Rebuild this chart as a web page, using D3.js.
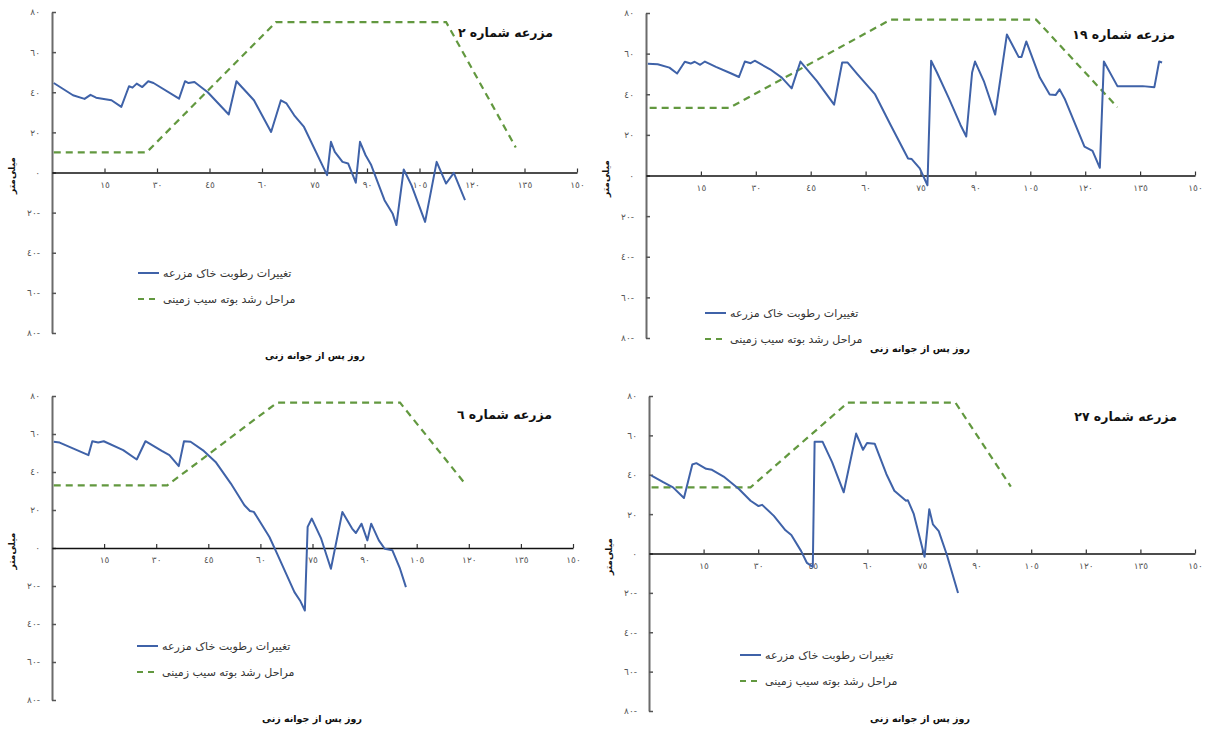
<!DOCTYPE html>
<html>
<head>
<meta charset="utf-8">
<script src="https://cdnjs.cloudflare.com/ajax/libs/d3/7.8.5/d3.min.js"></script>
<style>
  body { margin: 0; background: #fff; }
  text { font-family: "DejaVu Sans", sans-serif; }
</style>
</head>
<body>
<div id="chart-area"></div>
<script>

// ---- data ----
// farm 2
var farm2Days     = [0.5, 6, 9.3, 11, 12.6, 17, 19.8, 22, 23, 24.2, 25.8, 27.5, 29, 36.3, 38, 39, 40.7, 44.5, 50.5, 52.7, 57.7, 62.6, 65.4, 67, 69.2, 72, 78.6, 79.7, 80.8, 83, 84.6, 86.8, 88, 89.6, 91.2, 95, 97.3, 98.4, 100.5, 102.7, 106.6, 109.9, 112.6, 114.8, 118];
var farm2Moisture = [44.6, 38.5, 36.7, 38.7, 37.3, 36, 32.7, 43, 42.3, 44.3, 42.6, 45.5, 44.6, 36.8, 45.5, 44.6, 45.1, 40, 28.9, 45.5, 36, 20.2, 36, 34.4, 28.5, 22.7, -1.3, 15.3, 10.3, 5.3, 4.5, -5.1, 15.3, 8.6, 3.7, -13.8, -20.4, -26.2, 1.5, -6.3, -24.6, 5.3, -5.5, -0.2, -13.8];
var farm2StageDays = [0.5, 27, 64, 112.6, 132.5];
var farm2Stage     = [10, 10, 75, 75, 12.5];

// farm 19
var farm19Days     = [0.5, 3.2, 6.4, 8.5, 10.6, 12.2, 13.3, 14.8, 16.1, 19.1, 23.3, 25.4, 27, 28.6, 29.7, 33.9, 37.1, 39.8, 42.2, 46.7, 51.4, 53.6, 55.1, 57.8, 62.6, 66.8, 71.6, 72.6, 74.8, 76.9, 77.9, 79.5, 82.7, 85.9, 87.5, 89.1, 89.9, 92.3, 95.4, 98.6, 101.8, 102.6, 103.9, 107.6, 110.3, 111.9, 113, 114.5, 119.8, 122, 124, 125.1, 128.8, 135.7, 138.9, 140.2, 141];
var farm19Moisture = [55, 54.8, 53.1, 50.2, 56, 55.1, 56, 54.5, 56.1, 53.5, 50.2, 48.5, 56.1, 55.3, 56.5, 52.3, 48.2, 42.9, 56.1, 46.5, 34.9, 55.6, 55.6, 49.8, 39.9, 25, 8.4, 8.1, 3.5, -4.8, 56.5, 50.7, 38.2, 25, 19.2, 50.7, 56.1, 46.5, 30, 69.4, 58.4, 58.4, 66, 48.2, 39.9, 39.6, 42.4, 37.4, 14.2, 12.1, 3.8, 56.1, 44, 44, 43.5, 56.1, 55.6];
var farm19StageDays = [1, 22.8, 66.8, 106.6, 128.8];
var farm19Stage     = [33.3, 33.3, 76.7, 76.7, 33.6];

// farm 6
var farm6Days     = [0.5, 2.2, 10.5, 11.6, 13.3, 14.9, 20.5, 24.4, 26.9, 31.6, 33.8, 36.5, 38, 39.9, 43.7, 47.1, 51.5, 55.4, 57, 58.1, 62.6, 64.8, 69.8, 71.4, 72.8, 73.6, 74.8, 77.5, 80.3, 83.6, 86.4, 87.5, 89.1, 90.8, 91.9, 94.1, 95.8, 98, 100.2, 101.9];
var farm6Moisture = [55.9, 55.5, 48.9, 56.2, 55.5, 56.2, 51.5, 46.6, 56.2, 51.1, 48.9, 43.1, 56.2, 55.9, 51.1, 45.3, 33.9, 22.5, 19.5, 19, 5.8, -3, -23.2, -27.6, -32.9, 11.1, 15.5, 4.9, -10.9, 19, 10.2, 7.9, 12.8, 4, 12.8, 4, -0.4, -1.2, -10.9, -20.6];
var farm6StageDays = [0.5, 33.2, 64.8, 100.2, 118.5];
var farm6Stage     = [33, 33, 76.5, 76.5, 34.8];

// farm 27
var farm27Days     = [0.7, 3.9, 6.6, 9.6, 11.9, 13, 15.7, 17.3, 20.5, 24.7, 27.9, 30.1, 31.1, 34.3, 37.5, 39.1, 41.8, 43.4, 45, 45.5, 47.7, 50.3, 53.5, 56.9, 58.8, 59.9, 62, 65.2, 67.4, 70.6, 71.1, 72.7, 75.7, 77, 78, 79.6, 81.8, 84.9];
var farm27Moisture = [39.6, 36.2, 33.6, 28.2, 45.2, 45.9, 43, 42.5, 39.1, 32.8, 26.8, 24.1, 24.7, 19.1, 11.8, 9.4, 1.2, -4.8, -6.8, 56.7, 56.7, 46.4, 31.1, 60.9, 52.7, 56.1, 55.8, 40.4, 31.9, 26.8, 27.1, 20.3, -1.7, 22.5, 14.8, 11.4, -0.5, -20.1];
var farm27StageDays = [0.7, 27.9, 54.6, 84.2, 99.4];
var farm27Stage     = [33.6, 33.6, 76.6, 76.6, 34];

var xTicks = [15, 30, 45, 60, 75, 90, 105, 120, 135, 150];
var yTicks = [-80, -60, -40, -20, 0, 20, 40, 60, 80];

var titles = ["مزرعه شماره ۲", "مزرعه شماره ۱۹", "مزرعه شماره ٦", "مزرعه شماره ۲۷"];
var seriesNames = ["تغییرات رطوبت خاک مزرعه", "مراحل رشد بوته سیب زمینی"];
var xTitle = "روز پس از جوانه زنی";
var yTitle = "میلی‌متر";

// ---- layout (pixel boxes of each panel) ----
var panels = [
	{days: farm2Days, moist: farm2Moisture, sDays: farm2StageDays, stage: farm2Stage, title: titles[0],
	 x0: 52, x1: 577, yTop: 12, yBot: 333, titleX: 553, titleY: 37, legX: 138, legY: 273, xtX: 315, xtY: 359},
	{days: farm19Days, moist: farm19Moisture, sDays: farm19StageDays, stage: farm19Stage, title: titles[1],
	 x0: 646, x1: 1195, yTop: 13, yBot: 338, titleX: 1175, titleY: 39, legX: 705, legY: 313, xtX: 920, xtY: 352},
	{days: farm6Days, moist: farm6Moisture, sDays: farm6StageDays, stage: farm6Stage, title: titles[2],
	 x0: 52, x1: 573, yTop: 396, yBot: 700, titleX: 552, titleY: 419, legX: 137, legY: 646, xtX: 312, xtY: 722},
	{days: farm27Days, moist: farm27Moisture, sDays: farm27StageDays, stage: farm27Stage, title: titles[3],
	 x0: 649, x1: 1195, yTop: 396, yBot: 711, titleX: 1177, titleY: 421, legX: 740, legY: 655, xtX: 920, xtY: 722}
];

var blue = "#3f62a8";
var green = "#62983f";

function faNum(v) {
	var s = String(Math.abs(v)).replace(/\d/g, function(d) { return "٠١٢٣٤٥٦٧٨٩"[+d]; });
	return v < 0 ? s + "-" : s;
}

let svg = d3.select("#chart-area")
	.append("svg")
	.attr("width", 1205)
	.attr("height", 731)
	.style("background", "#fff");

panels.forEach(function(p) {
	let g = svg.append("g");

	let x = d3.scaleLinear().domain([0, 150]).range([p.x0, p.x1]);
	let y = d3.scaleLinear().domain([-80, 80]).range([p.yBot, p.yTop]);

	// y axis (grey, ticks inward)
	let yAxis = d3.axisLeft(y)
		.tickValues(yTicks)
		.tickFormat(faNum)
		.tickSizeInner(-4)
		.tickSizeOuter(0)
		.tickPadding(12);

	let ya = g.append("g")
		.attr("transform", "translate(" + p.x0 + ",0)")
		.call(yAxis);
	ya.select(".domain").attr("stroke", "#6b6b6b").attr("stroke-width", 2);
	ya.selectAll(".tick line").attr("stroke", "#555").attr("stroke-width", 1.5);
	ya.selectAll(".tick text")
		.attr("fill", "#555")
		.style("font-size", "9px")
		.style("direction", "ltr");

	// x axis at zero
	let xAxis = d3.axisBottom(x)
		.tickValues(xTicks)
		.tickFormat(faNum)
		.tickSizeInner(-4)
		.tickSizeOuter(0)
		.tickPadding(9);

	let xa = g.append("g")
		.attr("transform", "translate(0," + y(0) + ")")
		.call(xAxis);
	xa.select(".domain").attr("stroke", "#111").attr("stroke-width", 1.5);
	xa.selectAll(".tick line").attr("stroke", "#333").attr("stroke-width", 1.2);
	xa.selectAll(".tick text")
		.attr("fill", "#555")
		.style("font-size", "9px");

	// growth stage (dashed) and soil moisture (solid)
	let stageData = p.sDays.map(function(d, i) { return [d, p.stage[i]]; });
	let moistData = p.days.map(function(d, i) { return [d, p.moist[i]]; });
	let line = d3.line()
		.x(function(d) { return x(d[0]); })
		.y(function(d) { return y(d[1]); });

	g.append("path")
		.datum(stageData)
		.attr("d", line)
		.attr("fill", "none")
		.attr("stroke", green)
		.attr("stroke-width", 2.2)
		.attr("stroke-dasharray", "7,5");

	g.append("path")
		.datum(moistData)
		.attr("d", line)
		.attr("fill", "none")
		.attr("stroke", blue)
		.attr("stroke-width", 2)
		.attr("stroke-linejoin", "round");

	// title
	g.append("text")
		.attr("x", p.titleX)
		.attr("y", p.titleY)
		.attr("text-anchor", "end")
		.style("font-size", "12.5px")
		.style("font-weight", "bold")
		.attr("fill", "#111")
		.text(p.title);

	// legend
	let leg = g.append("g").attr("transform", "translate(" + p.legX + "," + p.legY + ")");
	leg.append("line").attr("x1", 0).attr("x2", 21).attr("y1", 0).attr("y2", 0)
		.attr("stroke", blue).attr("stroke-width", 2);
	leg.append("line").attr("x1", 0).attr("x2", 21).attr("y1", 26).attr("y2", 26)
		.attr("stroke", green).attr("stroke-width", 2).attr("stroke-dasharray", "6,5");
	seriesNames.forEach(function(n, i) {
		leg.append("text")
			.attr("x", 25)
			.attr("y", i * 26 + 4)
			.style("font-size", "11px")
			.attr("fill", "#333")
			.text(n);
	});

	// axis titles
	g.append("text")
		.attr("x", p.xtX)
		.attr("y", p.xtY)
		.attr("text-anchor", "middle")
		.style("font-size", "9.5px")
		.style("font-weight", "bold")
		.attr("fill", "#111")
		.text(xTitle);

	g.append("text")
		.attr("transform", "translate(" + (p.x0 - 37) + "," + (y(0) + 3) + ") rotate(-90)")
		.attr("text-anchor", "middle")
		.style("font-size", "9px")
		.style("font-weight", "bold")
		.attr("fill", "#111")
		.text(yTitle);
});

</script>
</body>
</html>
